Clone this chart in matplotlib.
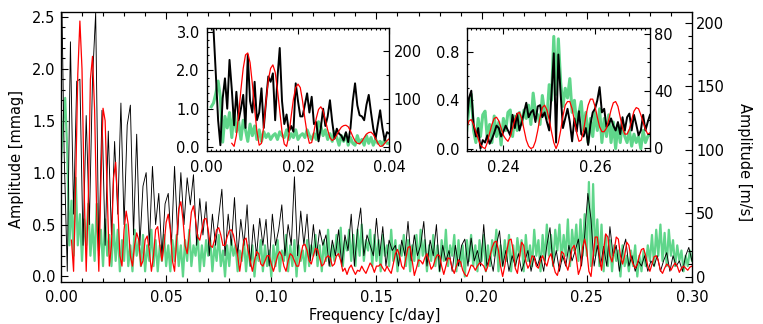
import numpy as np
import matplotlib
matplotlib.use('Agg')
import matplotlib.pyplot as plt
from matplotlib.ticker import MultipleLocator, FormatStrFormatter

plt.rcParams['font.family'] = ['DejaVu Sans']
plt.rcParams['font.size'] = 10.5

# ---------------- 主图数据 (mmag) ----------------
# 黑线: 起点 0.0, 步长 0.0015 c/day
black_start, black_step = 0.0, 0.0015
black_main = [
    3.2, 1.2, 0.05, 2.26, 0.6, 1.88, 1.9, 0.3, 1.55, 0.5,
    1.9, 2.54, 0.2, 1.6, 0.3, 1.4, 0.4, 1.3, 0.6, 1.67,
    0.5, 1.46, 1.65, 0.4, 1.37, 0.3, 0.87, 1.0, 0.3, 1.06,
    0.5, 0.8, 0.2, 0.7, 0.8, 0.3, 1.06, 0.4, 1.0, 0.5,
    0.95, 0.69, 0.98, 0.3, 0.75, 0.4, 0.72, 0.2, 0.6, 0.3,
    0.58, 0.84, 0.2, 0.6, 0.3, 0.76, 0.2, 0.55, 0.3, 0.69,
    0.1, 0.5, 0.2, 0.56, 0.3, 0.55, 0.1, 0.6, 0.3, 0.45,
    0.69, 0.2, 0.5, 0.3, 0.96, 0.2, 0.63, 0.3, 0.6, 0.15,
    0.5, 0.2, 0.45, 0.3, 0.4, 0.1, 0.35, 0.2, 0.45, 0.1,
    0.4, 0.25, 0.6, 0.1, 0.45, 0.66, 0.2, 0.4, 0.3, 0.2,
    0.56, 0.2, 0.48, 0.1, 0.35, 0.25, 0.3, 0.1, 0.35, 0.2,
    0.53, 0.15, 0.4, 0.2, 0.3, 0.53, 0.1, 0.35, 0.2, 0.5,
    0.05, 0.3, 0.15, 0.25, 0.05, 0.3, 0.1, 0.3, 0.36, 0.1,
    0.37, 0.15, 0.25, 0.1, 0.5, 0.1, 0.2, 0.05, 0.3, 0.44,
    0.1, 0.25, 0.05, 0.2, 0.1, 0.22, 0.05, 0.15, 0.25, 0.05,
    0.2, 0.1, 0.2, 0.05, 0.3, 0.47, 0.1, 0.25, 0.05, 0.2,
    0.1, 0.3, 0.15, 0.25, 0.36, 0.1, 0.4, 0.8, 0.55, 0.1,
    0.3, 0.1, 0.29, 0.1, 0.48, 0.2, 0.3, 0.05, 0.25, 0.36,
    0.1, 0.2, 0.05, 0.15, 0.1, 0.2, 0.05, 0.15, 0.1, 0.2,
    0.05, 0.15, 0.23, 0.05, 0.2, 0.1, 0.15, 0.05, 0.2, 0.28,
    0.15,
]

# 绿线: 起点 0.0, 步长 0.001
green_start, green_step = 0.0, 0.001
green_main = [
    1.1, 1.45, 1.72, 1.2, 0.3, 0.73, 0.2, 0.95, 0.3, 0.6,
    0.15, 0.55, 0.3, 0.7, 0.2, 0.5, 0.15, 0.7, 0.25, 0.45,
    0.1, 0.55, 0.2, 0.4, 0.1, 0.5, 0.15, 0.45, 0.05, 0.35,
    0.15, 0.5, 0.1, 0.3, 0.05, 0.45, 0.2, 0.35, 0.1, 0.4,
    0.05, 0.3, 0.15, 0.45, 0.1, 0.35, 0.05, 0.3, 0.15, 0.4,
    0.1, 0.3, 0.05, 0.35, 0.15, 0.4, 0.1, 0.3, 0.0, 0.35,
    0.15, 0.45, 0.1, 0.3, 0.2, 0.4, 0.05, 0.3, 0.1, 0.35,
    0.2, 0.35, 0.05, 0.3, 0.15, 0.4, 0.1, 0.25, 0.0, 0.3,
    0.1, 0.35, 0.2, 0.3, 0.05, 0.25, 0.15, 0.35, 0.05, 0.3,
    0.1, 0.3, 0.0, 0.25, 0.15, 0.35, 0.05, 0.3, 0.1, 0.25,
    0.0, 0.3, 0.1, 0.35, 0.05, 0.25, 0.15, 0.4, 0.05, 0.3,
    0.1, 0.35, 0.0, 0.3, 0.15, 0.25, 0.05, 0.35, 0.1, 0.3,
    0.2, 0.4, 0.1, 0.3, 0.05, 0.35, 0.15, 0.45, 0.1, 0.3,
    0.15, 0.4, 0.2, 0.47, 0.1, 0.35, 0.25, 0.45, 0.15, 0.4,
    0.1, 0.45, 0.2, 0.5, 0.15, 0.35, 0.25, 0.45, 0.1, 0.4,
    0.15, 0.35, 0.05, 0.4, 0.2, 0.3, 0.1, 0.45, 0.15, 0.35,
    0.05, 0.3, 0.2, 0.4, 0.1, 0.35, 0.05, 0.3, 0.15, 0.4,
    0.1, 0.45, 0.2, 0.35, 0.05, 0.3, 0.15, 0.4, 0.1, 0.3,
    0.05, 0.35, 0.15, 0.45, 0.1, 0.3, 0.2, 0.4, 0.05, 0.35,
    0.1, 0.3, 0.0, 0.35, 0.15, 0.4, 0.1, 0.3, 0.05, 0.35,
    0.15, 0.4, 0.05, 0.3, 0.1, 0.35, 0.2, 0.45, 0.05, 0.3,
    0.1, 0.35, 0.15, 0.4, 0.05, 0.3, 0.1, 0.37, 0.2, 0.35,
    0.05, 0.4, 0.15, 0.3, 0.1, 0.45, 0.2, 0.35, 0.05, 0.4,
    0.15, 0.5, 0.2, 0.4, 0.1, 0.45, 0.25, 0.5, 0.15, 0.4,
    0.2, 0.55, 0.1, 0.45, 0.25, 0.5, 0.15, 0.55, 0.2, 0.6,
    0.2, 0.91, 0.1, 0.89, 0.2, 0.55, 0.1, 0.5, 0.05, 0.4,
    0.1, 0.35, 0.05, 0.3, 0.15, 0.25, 0.0, 0.3, 0.1, 0.2,
    0.05, 0.25, 0.1, 0.3, 0.0, 0.2, 0.05, 0.25, 0.1, 0.3,
    0.15, 0.4, 0.1, 0.45, 0.2, 0.5, 0.15, 0.42, 0.1, 0.45,
    0.2, 0.35, 0.1, 0.3, 0.15, 0.25, 0.05, 0.2, 0.1, 0.25,
    0.15,
]

# 红线: 起点 0.005, 步长 0.001
red_start, red_step = 0.005, 0.001
red_main = [
    0.35, 0.05, 0.9, 1.95, 2.46,
    2.0, 0.85, 0.05, 0.75, 1.9, 2.12, 1.6, 0.6, 0.05, 0.9,
    1.62, 1.5, 0.8, 0.1, 0.3, 0.95, 1.1, 0.7, 0.2, 0.1,
    0.45, 0.63, 0.5, 0.2, 0.1, 0.3, 0.42, 0.35, 0.1, 0.15,
    0.35, 0.39, 0.25, 0.05, 0.2, 0.45, 0.48, 0.3, 0.15, 0.3,
    0.52, 0.6, 0.45, 0.15, 0.05, 0.35, 0.65, 0.72, 0.55, 0.3,
    0.22, 0.4, 0.62, 0.68, 0.55, 0.38, 0.35, 0.45, 0.55, 0.56,
    0.45, 0.3, 0.28, 0.35, 0.45, 0.47, 0.4, 0.3, 0.3, 0.38,
    0.44, 0.45, 0.4, 0.3, 0.2, 0.05, 0.2, 0.35, 0.37, 0.25,
    0.15, 0.05, 0.15, 0.24, 0.22, 0.12, 0.1, 0.15, 0.2, 0.2,
    0.12, 0.05, 0.12, 0.2, 0.24, 0.2, 0.1, 0.05, 0.15, 0.22,
    0.2, 0.15, 0.1, 0.1, 0.2, 0.3, 0.31, 0.25, 0.15, 0.12,
    0.2, 0.27, 0.26, 0.18, 0.1, 0.12, 0.18, 0.2, 0.18, 0.1,
    0.12, 0.2, 0.22, 0.15, 0.05, 0.08, 0.02, 0.08, 0.11, 0.06,
    0.02, 0.06, 0.05, 0.1, 0.06, 0.03, 0.08, 0.13, 0.1, 0.04,
    0.1, 0.1, 0.12, 0.08, 0.05, 0.1, 0.06, 0.03, 0.12, 0.22,
    0.26, 0.2, 0.1, 0.07, 0.18, 0.28, 0.29, 0.15, 0.01, 0.08,
    0.16, 0.15, 0.12, 0.18, 0.22, 0.15, 0.07, 0.1, 0.17, 0.21,
    0.2, 0.1, 0.02, 0.1, 0.18, 0.17, 0.08, 0.03, 0.1, 0.16,
    0.14, 0.06, 0.02, 0.0, 0.05, 0.11, 0.1, 0.06, 0.1, 0.13,
    0.12, 0.1, 0.05, 0.1, 0.2, 0.28, 0.33, 0.34, 0.25, 0.1,
    0.0, 0.1, 0.25, 0.35, 0.36, 0.25, 0.08, 0.03, 0.18, 0.33,
    0.3, 0.15, 0.08, 0.12, 0.2, 0.18, 0.1, 0.08, 0.16, 0.2,
    0.14, 0.1, 0.18, 0.22, 0.12, 0.04, 0.01, 0.1, 0.24, 0.22,
    0.12, 0.06, 0.15, 0.27, 0.3, 0.18, 0.02, 0.08, 0.28, 0.36,
    0.25, 0.05, 0.0, 0.2, 0.38, 0.38, 0.2, 0.06, 0.25, 0.41,
    0.38, 0.2, 0.14, 0.25, 0.38, 0.36, 0.2, 0.12, 0.2, 0.33,
    0.3, 0.18, 0.12, 0.08, 0.12, 0.2, 0.26, 0.27, 0.2, 0.1,
    0.05, 0.12, 0.19, 0.2, 0.15, 0.06, 0.03, 0.08, 0.12, 0.1,
    0.06, 0.1, 0.13, 0.1, 0.04, 0.08, 0.1, 0.08, 0.06, 0.09,
    0.1,
]

# ---------------- 插图1 (0 - 0.04 c/day), 步长 0.0005 ----------------
in1_step = 0.0005
in1_black_start = 0.0
in1_black = [
    3.5, 3.4, 3.3, 3.05, 1.9, 0.7, 0.05, 1.27, 1.79, 1.0,
    2.27, 1.5, 0.57, 1.44, 0.7, 1.0, 1.36, 0.5, 2.4, 1.2,
    0.9, 1.7, 0.7, 0.9, 1.53, 0.5, 1.2, 1.84, 1.7, 1.92,
    0.7, 1.8, 2.58, 1.2, 0.6, 0.85, 0.4, 0.55, 0.4, 1.66,
    1.2, 0.8, 0.8, 1.1, 1.4, 0.9, 1.31, 0.6, 0.65, 0.15,
    0.5, 1.0, 0.55, 0.8, 1.22, 0.66, 0.22, 0.48, 0.35, 0.3,
    0.17, 0.39, 0.13, 0.5, 1.2, 1.66, 1.09, 0.83, 0.8, 0.7,
    1.1, 1.36, 0.9, 0.48, 0.22, 0.6, 0.96, 0.5, 0.17, 0.39,
    0.35,
]
in1_green_start = 0.001
in1_green = [
    1.05, 1.15, 1.4, 1.72, 1.3, 0.13, 0.8, 0.5,
    0.9, 0.25, 0.96, 0.4, 0.66, 0.2, 0.7, 0.45, 0.15, 0.6,
    0.3, 0.55, 0.2, 0.45, 0.15, 0.4, 0.25, 0.35, 0.2, 0.3,
    0.35, 0.2, 0.4, 0.3, 0.25, 0.45, 0.2, 0.35, 0.25, 0.45,
    0.2, 0.3, 0.35, 0.25, 0.45, 0.3, 0.2, 0.35, 0.2, 0.66,
    0.55, 0.3, 0.45, 0.2, 0.35, 0.15, 0.4, 0.25, 0.05, 0.3,
    0.15, 0.35, 0.05, 0.25, 0.1, 0.05, 0.3, 0.1, 0.2, 0.05,
    0.3, 0.1, 0.25, 0.05, 0.2, 0.1, 0.15, 0.05, 0.2, 0.1,
    0.1,
]
in1_red_start = 0.0055
in1_red = [
    0.1, 0.02, 0.3, 0.85, 1.5, 2.05, 2.4, 2.45, 2.2,
    1.65, 1.0, 0.4, 0.05, 0.1, 0.55, 1.2, 1.75, 2.05, 2.14,
    1.95, 1.5, 0.95, 0.4, 0.08, 0.02, 0.3, 0.8, 1.25, 1.55,
    1.64, 1.55, 1.2, 0.75, 0.35, 0.1, 0.12, 0.4, 0.75, 0.98,
    1.05, 0.95, 0.7, 0.45, 0.25, 0.17, 0.22, 0.32, 0.43, 0.52,
    0.56, 0.57, 0.53, 0.42, 0.28, 0.16, 0.1, 0.09, 0.15, 0.25,
    0.34, 0.38, 0.39, 0.33, 0.22, 0.1, 0.02, 0.03, 0.1, 0.17,
    0.22,
]

# ---------------- 插图2 (0.232 - 0.272 c/day), 步长 0.0005 ----------------
in2_start, in2_step = 0.232, 0.0005
in2_black = [
    0.22, 0.42, 0.48, 0.2, 0.1, 0.17, 0.0, 0.07, 0.05, 0.11,
    0.04, 0.08, 0.13, 0.19, 0.17, 0.1, 0.14, 0.19, 0.15, 0.11,
    0.28, 0.17, 0.29, 0.15, 0.22, 0.3, 0.38, 0.26, 0.3, 0.32,
    0.22, 0.35, 0.36, 0.26, 0.3, 0.22, 0.15, 0.45, 0.79, 0.05,
    0.78, 0.45, 0.17, 0.25, 0.33, 0.22, 0.06, 0.25, 0.14, 0.31,
    0.12, 0.1, 0.17, 0.03, 0.2, 0.3, 0.33, 0.4, 0.51, 0.3,
    0.33, 0.18, 0.2, 0.25, 0.19, 0.15, 0.22, 0.12, 0.26, 0.15,
    0.26, 0.29, 0.15, 0.28, 0.2, 0.11, 0.15, 0.28, 0.15, 0.22,
    0.28,
]
in2_green = [
    0.15, 0.35, 0.45, 0.15, 0.05, 0.25, 0.1, 0.28, 0.31, 0.08,
    0.2, 0.05, 0.27, 0.1, 0.22, 0.03, 0.25, 0.15, 0.3, 0.32,
    0.1, 0.27, 0.15, 0.3, 0.2, 0.32, 0.25, 0.36, 0.2, 0.46,
    0.3, 0.28, 0.2, 0.44, 0.3, 0.25, 0.53, 0.4, 0.93, 0.45,
    0.91, 0.55, 0.35, 0.5, 0.42, 0.58, 0.3, 0.4, 0.2, 0.3,
    0.39, 0.15, 0.3, 0.05, 0.25, 0.1, 0.3, 0.15, 0.33, 0.05,
    0.25, 0.1, 0.28, 0.05, 0.22, 0.0, 0.2, 0.05, 0.22, 0.1,
    0.05, 0.15, 0.02, 0.12, 0.05, 0.1, 0.0, 0.15, 0.05, 0.1,
    0.12,
]
in2_red = [
    0.17, 0.23, 0.24, 0.2, 0.14, 0.08, 0.03, 0.01, 0.0, 0.05,
    0.13, 0.2, 0.25, 0.26, 0.23, 0.17, 0.11, 0.08, 0.06, 0.1,
    0.17, 0.24, 0.29, 0.3, 0.25, 0.16, 0.07, 0.02, 0.0, 0.01,
    0.06, 0.15, 0.26, 0.34, 0.36, 0.32, 0.24, 0.14, 0.05, 0.0,
    0.05, 0.15, 0.27, 0.36, 0.39, 0.39, 0.33, 0.23, 0.13, 0.06,
    0.07, 0.15, 0.27, 0.36, 0.41, 0.41, 0.35, 0.26, 0.18, 0.14,
    0.14, 0.17, 0.24, 0.32, 0.38, 0.39, 0.35, 0.26, 0.17, 0.12,
    0.12, 0.16, 0.24, 0.31, 0.34, 0.33, 0.28, 0.22, 0.16, 0.12,
    0.13,
]

GREEN = '#5fd68a'
RED = '#ff0000'
BLACK = '#000000'


def grid(start, step, vals):
    return start + step * np.arange(len(vals))


def idl_ticks(ax, xmaj, xmin, ymaj, ymin, xfmt, yfmt, majlen=5, minlen=2.8):
    """IDL风格刻度: 朝内, 上下都有"""
    ax.xaxis.set_major_locator(MultipleLocator(xmaj))
    ax.xaxis.set_minor_locator(MultipleLocator(xmin))
    ax.yaxis.set_major_locator(MultipleLocator(ymaj))
    ax.yaxis.set_minor_locator(MultipleLocator(ymin))
    ax.xaxis.set_major_formatter(FormatStrFormatter(xfmt))
    ax.yaxis.set_major_formatter(FormatStrFormatter(yfmt))
    ax.tick_params(which='both', direction='in', top=True, right=False,
                   width=0.8)
    ax.tick_params(which='major', length=majlen)
    ax.tick_params(which='minor', length=minlen)
    for s in ax.spines.values():
        s.set_linewidth(0.9)


def right_axis(ax, ylim, maj, mnr, majlen=5, minlen=2.8, pad=3):
    axr = ax.twinx()
    axr.set_ylim(*ylim)
    axr.yaxis.set_major_locator(MultipleLocator(maj))
    axr.yaxis.set_minor_locator(MultipleLocator(mnr))
    axr.yaxis.set_major_formatter(FormatStrFormatter('%d'))
    axr.tick_params(axis='y', which='both', direction='in', right=True,
                    left=False, width=0.8, pad=pad)
    axr.tick_params(axis='y', which='major', length=majlen)
    axr.tick_params(axis='y', which='minor', length=minlen)
    return axr


fig = plt.figure(figsize=(7.63, 3.24), dpi=100)

# ---------------- 主图 ----------------
ax = fig.add_axes([0.0799, 0.1306, 0.8270, 0.8333])
ax.plot(grid(green_start, green_step, green_main), green_main, color=GREEN, lw=1.6)
ax.plot(grid(black_start, black_step, black_main), black_main, color=BLACK, lw=0.65)
ax.plot(grid(red_start, red_step, red_main), red_main, color=RED, lw=0.9)
ax.set_xlim(0, 0.30)
ax.set_ylim(-0.05, 2.55)
idl_ticks(ax, 0.05, 0.01, 0.5, 0.1, '%.2f', '%.1f')
ax.tick_params(axis='x', pad=6)
ax.tick_params(axis='y', pad=4)
ax.set_xlabel('Frequency [c/day]')
ax.set_ylabel('Amplitude [mmag]')
ax.xaxis.set_label_coords(0.4976, -0.097)
ax.yaxis.set_label_coords(-0.058, 0.454)

ax2 = right_axis(ax, (-4, 209), 50, 10)
ax2.set_ylabel('Amplitude [m/s]', rotation=270, va='center')
ax2.yaxis.set_label_coords(1.084, 0.443)

# ---------------- 插图1 ----------------
ins1 = fig.add_axes([0.2709, 0.5340, 0.2393, 0.3796])
ins1.set_facecolor('white')
ins1.plot(grid(in1_green_start, in1_step, in1_green), in1_green, color=GREEN, lw=2.2)
ins1.plot(grid(in1_black_start, in1_step, in1_black), in1_black, color=BLACK, lw=1.4)
ins1.plot(grid(in1_red_start, in1_step, in1_red), in1_red, color=RED, lw=0.9)
ins1.set_xlim(0, 0.04)
ins1.set_ylim(-0.1, 3.1)
idl_ticks(ins1, 0.02, 0.001, 1.0, 0.2, '%.2f', '%.1f', majlen=4.5, minlen=1.6)
ins1.tick_params(axis='x', pad=6.5)
ins1.tick_params(axis='y', pad=5)
right_axis(ins1, (-8, 248), 100, 50, majlen=4.5, minlen=2.5)

# ---------------- 插图2 ----------------
ins2 = fig.add_axes([0.6117, 0.5340, 0.2402, 0.3796])
ins2.set_facecolor('white')
ins2.plot(grid(in2_start, in2_step, in2_green), in2_green, color=GREEN, lw=2.2)
ins2.plot(grid(in2_start, in2_step, in2_black), in2_black, color=BLACK, lw=1.4)
ins2.plot(grid(in2_start, in2_step, in2_red), in2_red, color=RED, lw=0.9)
ins2.set_xlim(0.232, 0.272)
ins2.set_ylim(-0.02, 1.0)
idl_ticks(ins2, 0.02, 0.001, 0.4, 0.1, '%.2f', '%.1f', majlen=4.5, minlen=1.6)
ins2.tick_params(axis='x', pad=6.5)
ins2.tick_params(axis='y', pad=5)
right_axis(ins2, (-2, 84), 40, 10, majlen=4.5, minlen=2.5)

fig.savefig('out.png', dpi=100)
